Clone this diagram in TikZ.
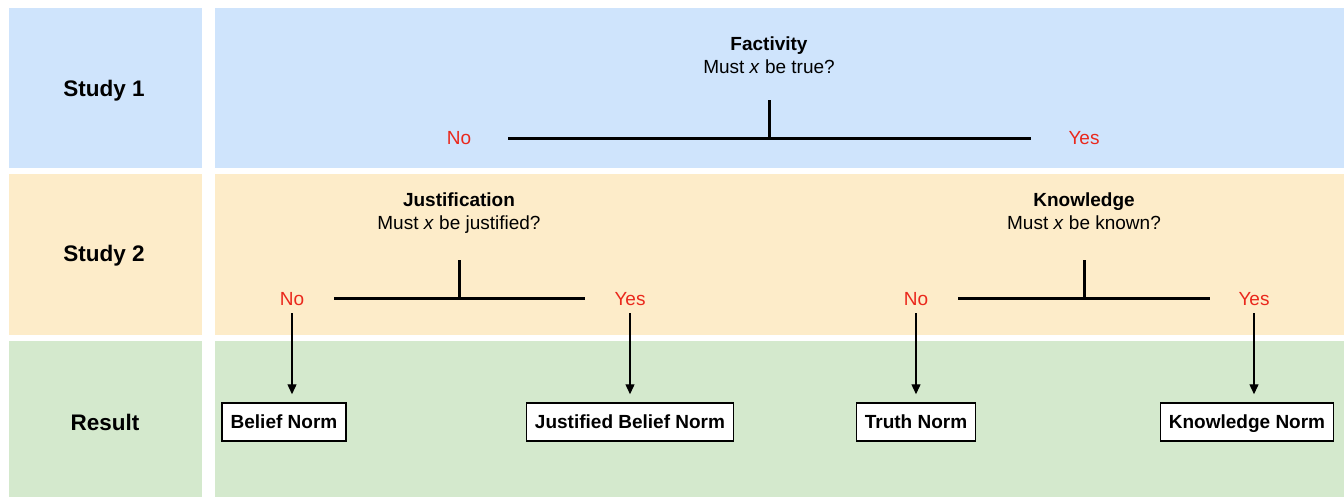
\documentclass[tikz,border=0pt]{standalone}
\usepackage{fontspec}
\setmainfont{Liberation Sans}
\usepackage{xcolor}
\usepackage{tikz}
\usetikzlibrary{arrows.meta}

\definecolor{bandblue}{RGB}{207,228,252}
\definecolor{bandsand}{RGB}{253,236,201}
\definecolor{bandgreen}{RGB}{212,233,205}
\definecolor{answerred}{RGB}{234,40,28}

\begin{document}
\begin{tikzpicture}[
    x=1pt, y=-1pt,
    rowlab/.style={inner sep=0pt, font=\fontsize{22.5}{26}\selectfont\bfseries},
    question/.style={align=center, anchor=north, inner sep=0pt, font=\fontsize{19}{23}\selectfont},
    answer/.style={text=answerred, font=\fontsize{19}{23}\selectfont},
    normbox/.style={rectangle, draw, line width=1.5pt, fill=white, minimum height=38pt, inner xsep=8.5pt,
        text height=17pt, text depth=3.4pt, font=\fontsize{19}{23}\selectfont\bfseries},
    bar/.style={line width=3pt},
    arrow/.style={-{Triangle[length=10pt, width=9pt]}, line width=1.4pt, shorten <=4pt, shorten >=8pt}
]
\useasboundingbox (0,0) rectangle (1344,498);

% bands
\fill[bandblue] (9,8) rectangle (202,168);
\fill[bandsand] (9,174) rectangle (202,335);
\fill[bandgreen] (9,341) rectangle (202,497);
\fill[bandblue] (215,8) rectangle (1344,168);
\fill[bandsand] (215,174) rectangle (1344,335);
\fill[bandgreen] (215,341) rectangle (1344,497);

% row labels
\node[rowlab] (study1) at (104,91) {Study 1};
\node[rowlab] (study2) at (104,256) {Study 2};
\node[rowlab] (result) at (105,422) {Result};

% study 1
\node[question] (fact) at (769,37) {\textbf{Factivity}\\Must \textit{x} be true?};
\node[answer] (factno) at (459,138) {No};
\node[answer] (factyes) at (1084,138) {Yes};
\coordinate (fact-top) at (769,100);
\coordinate (fact-mid) at (769,138);
\coordinate (fact-l) at (508,138);
\coordinate (fact-r) at (1031,138);
\draw[bar] (fact-l) -- (fact-r);
\draw[bar] (fact-top) -- (fact-mid);

% study 2
\node[question] (just) at (459,193) {\textbf{Justification}\\Must \textit{x} be justified?};
\node[answer] (justno) at (292,299) {No};
\node[answer] (justyes) at (630,299) {Yes};
\coordinate (just-top) at (459,260);
\coordinate (just-mid) at (459,298);
\coordinate (just-l) at (334,298);
\coordinate (just-r) at (585,298);
\draw[bar] (just-l) -- (just-r);
\draw[bar] (just-top) -- (just-mid);

\node[question] (know) at (1084,193) {\textbf{Knowledge}\\Must \textit{x} be known?};
\node[answer] (knowno) at (916,299) {No};
\node[answer] (knowyes) at (1254,299) {Yes};
\coordinate (know-top) at (1084,260);
\coordinate (know-mid) at (1084,298);
\coordinate (know-l) at (958,298);
\coordinate (know-r) at (1210,298);
\draw[bar] (know-l) -- (know-r);
\draw[bar] (know-top) -- (know-mid);

% results
\node[normbox] (belief) at (284,422) {Belief Norm};
\node[normbox] (justbelief) at (630,422) {Justified Belief Norm};
\node[normbox] (truth) at (916,422) {Truth Norm};
\node[normbox] (knowledge) at (1247,422) {Knowledge Norm};

\draw[arrow] (justno.south) -- (justno.south |- belief.north);
\draw[arrow] (justyes.south) -- (justyes.south |- justbelief.north);
\draw[arrow] (knowno.south) -- (knowno.south |- truth.north);
\draw[arrow] (knowyes.south) -- (knowyes.south |- knowledge.north);
\end{tikzpicture}
\end{document}
